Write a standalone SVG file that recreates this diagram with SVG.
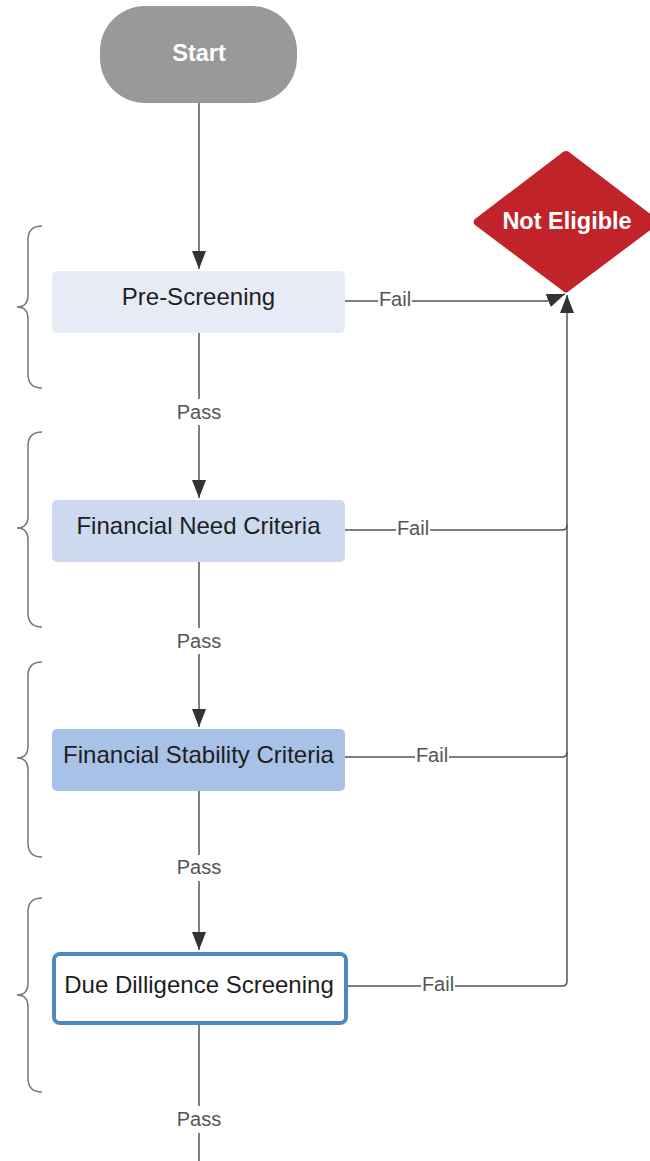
<svg xmlns="http://www.w3.org/2000/svg" width="650" height="1161" viewBox="0 0 650 1161">
<style>
.lbl{font-family:"Liberation Sans",Arial,sans-serif;font-size:20px;fill:#555;text-anchor:middle}
.ntx{font-family:"Liberation Sans",Arial,sans-serif;font-size:24px;fill:#1e1e1e;text-anchor:middle}
.btx{font-family:"Liberation Sans",Arial,sans-serif;font-size:23.5px;font-weight:bold;fill:#fff;text-anchor:middle}
.ln{fill:none;stroke:#555;stroke-width:1.5}
.br{fill:none;stroke:#777;stroke-width:1.5}
.bg{fill:#fff}
</style>
<defs>
<marker id="ah" markerUnits="userSpaceOnUse" markerWidth="20" markerHeight="14" refX="18" refY="7" orient="auto">
<path d="M0,0 L18,7 L0,14 z" fill="#333"/>
</marker>
</defs>
<rect width="650" height="1161" fill="#fff"/>
<g id="braces">
<path class="br" d="M42,226 Q28,226 28,240 L28,295 Q28,307 17,307 Q28,307 28,319 L28,374 Q28,388 42,388"/>
<path class="br" d="M42,432 Q28,432 28,446 L28,516 Q28,528 17,528 Q28,528 28,540 L28,613 Q28,627 42,627"/>
<path class="br" d="M42,662 Q28,662 28,676 L28,746 Q28,758 17,758 Q28,758 28,770 L28,843 Q28,857 42,857"/>
<path class="br" d="M42,898 Q28,898 28,912 L28,983 Q28,995 17,995 Q28,995 28,1007 L28,1078 Q28,1092 42,1092"/>
</g>
<g id="connectors">
<path class="ln" d="M199,103 V269" marker-end="url(#ah)"/>
<path class="ln" d="M199,333 V498" marker-end="url(#ah)"/>
<path class="ln" d="M199,562 V727" marker-end="url(#ah)"/>
<path class="ln" d="M199,791 V950" marker-end="url(#ah)"/>
<path class="ln" d="M199,1025 V1161"/>
<path class="ln" d="M345,301 L547,301 L565,294" marker-end="url(#ah)"/>
<path class="ln" d="M345,986 H562 Q567,986 567,981 V295" marker-end="url(#ah)"/>
<path class="ln" d="M345,757 H562 Q567,757 567,752"/>
<path class="ln" d="M345,530 H562 Q567,530 567,525"/>
<rect class="bg" x="176" y="399" width="46" height="26"/>
<text class="lbl" x="199" y="419">Pass</text>
<rect class="bg" x="176" y="628" width="46" height="26"/>
<text class="lbl" x="199" y="648">Pass</text>
<rect class="bg" x="176" y="855" width="46" height="26"/>
<text class="lbl" x="199" y="874">Pass</text>
<rect class="bg" x="176" y="1106" width="46" height="27"/>
<text class="lbl" x="199" y="1126">Pass</text>
<rect class="bg" x="378" y="290" width="34" height="20"/>
<text class="lbl" x="395" y="306">Fail</text>
<rect class="bg" x="396" y="519" width="34" height="20"/>
<text class="lbl" x="413" y="535">Fail</text>
<rect class="bg" x="415" y="746" width="34" height="20"/>
<text class="lbl" x="432" y="762">Fail</text>
<rect class="bg" x="421" y="975" width="34" height="20"/>
<text class="lbl" x="438" y="991">Fail</text>
</g>
<g id="start">
<rect x="100" y="6" width="197" height="97" rx="45" fill="#999"/>
<text class="btx" x="199" y="61">Start</text>
</g>
<g id="not-eligible">
<path d="M563,152 Q566,150 569,152 L657,219 Q660,222 657,225 L569,291 Q566,294 563,291 L475,225 Q472,222 475,219 Z" fill="#c1232b"/>
<text class="btx" x="567" y="229">Not Eligible</text>
</g>
<g id="pre-screening">
<rect x="52" y="271" width="293" height="62" rx="5" fill="#e7ebf6"/>
<text class="ntx" x="198.5" y="305">Pre-Screening</text>
</g>
<g id="financial-need">
<rect x="52" y="500" width="293" height="62" rx="5" fill="#ccd9ef"/>
<text class="ntx" x="198.5" y="534">Financial Need Criteria</text>
</g>
<g id="financial-stability">
<rect x="52" y="729" width="293" height="62" rx="5" fill="#a8c1e7"/>
<text class="ntx" x="198.5" y="763">Financial Stability Criteria</text>
</g>
<g id="due-diligence">
<rect x="54" y="954" width="292" height="69" rx="6" fill="#fff" stroke="#4f87c5" stroke-width="4"/>
<text class="ntx" x="199" y="993">Due Dilligence Screening</text>
</g>
</svg>
